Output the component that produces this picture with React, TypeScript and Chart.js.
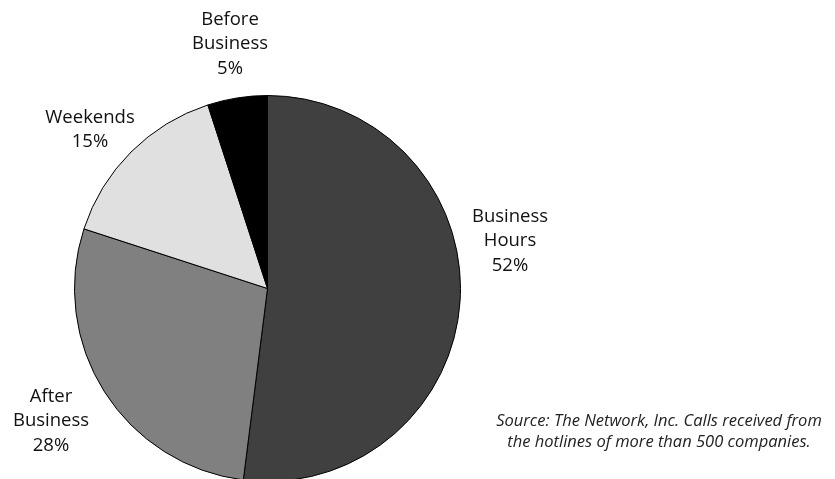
import React, { useEffect, useRef } from "react";
import { Chart, registerables } from "chart.js";

Chart.register(...registerables);

const categories = ["Business Hours", "After Business", "Weekends", "Before Business"];
const labelLines = [["Business", "Hours"], ["After", "Business"], ["Weekends"], ["Before", "Business"]];
const shares = [52, 28, 15, 5];
const sliceColors = ["#404040", "#808080", "#e0e0e0", "#000000"];
const sourceLines = [
  "Source: The Network, Inc. Calls received from",
  "the hotlines of more than 500 companies.",
];

// label layout (x center, first baseline)
const labelAnchors = [
  { x: 510, y: 222 },
  { x: 51, y: 402 },
  { x: 90, y: 123 },
  { x: 230, y: 25 },
];
const LINE_H = 24.3;
const FONT = "'Open Sans', 'Noto Sans', sans-serif";

const labelPlugin = {
  id: "sliceLabels",
  afterDraw(chart: any) {
    const ctx = chart.ctx;
    ctx.save();
    ctx.fillStyle = "#111";
    ctx.textAlign = "center";
    ctx.textBaseline = "alphabetic";
    ctx.font = `18.5px ${FONT}`;
    chart.data.labels.forEach((_: string, i: number) => {
      const lines = [...labelLines[i], `${chart.data.datasets[0].data[i]}%`];
      const a = labelAnchors[i];
      lines.forEach((t, j) => ctx.fillText(t, a.x, a.y + j * LINE_H));
    });
    ctx.font = `italic 16.5px ${FONT}`;
    ctx.fillStyle = "#222";
    sourceLines.forEach((t, j) => ctx.fillText(t, 659, 426 + j * 21));
    ctx.restore();
  },
};

export default function App() {
  const ref = useRef<HTMLCanvasElement>(null);
  useEffect(() => {
    document.body.style.margin = "0";
    const chart = new Chart(ref.current!, {
      type: "pie",
      data: {
        labels: categories,
        datasets: [
          {
            data: shares,
            backgroundColor: sliceColors,
            borderColor: "#000",
            borderWidth: 1,
          },
        ],
      },
      options: {
        animation: false,
        responsive: false,
        devicePixelRatio: 1,
        layout: { padding: { left: 74, right: 374, top: 95, bottom: 8 } },
        plugins: { legend: { display: false }, tooltip: { enabled: false } },
      },
      plugins: [labelPlugin],
    });
    return () => chart.destroy();
  }, []);
  return (
    <div style={{ position: "relative", width: 835, height: 479, overflow: "hidden", background: "#fff" }}>
      <canvas ref={ref} width={835} height={490} style={{ display: "block" }} />
    </div>
  );
}
